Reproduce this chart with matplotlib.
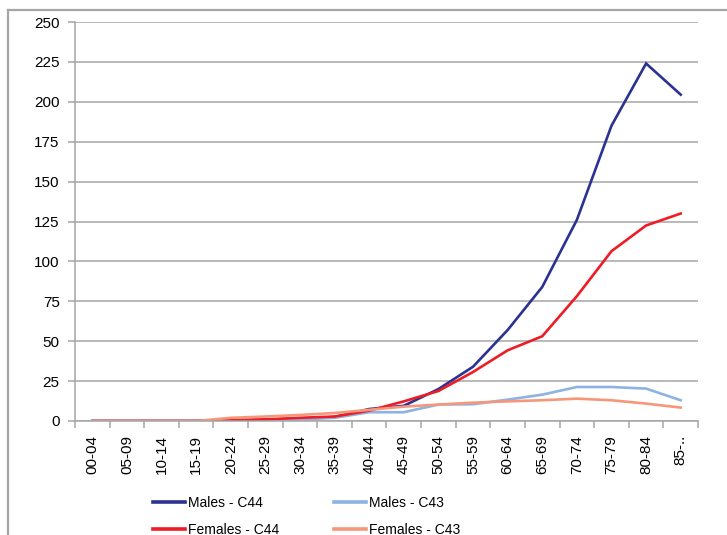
import matplotlib
matplotlib.use("Agg")
import matplotlib.pyplot as plt
from matplotlib.lines import Line2D
import numpy as np

plt.rcParams['font.family'] = ['Liberation Sans', 'DejaVu Sans']

# age groups
age_groups = ["00-04", "05-09", "10-14", "15-19", "20-24", "25-29", "30-34", "35-39",
              "40-44", "45-49", "50-54", "55-59", "60-64", "65-69", "70-74", "75-79",
              "80-84", "85-.."]

# rates
males_c44 = [0, 0, 0, 0, 0.3, 0.8, 1.5, 2.5, 7.5, 9.5, 20, 34, 57, 84, 126, 185, 224, 204.5]
males_c43 = [0, 0, 0, 0, 0.2, 0.4, 1, 2, 5.5, 5.5, 10.3, 10.5, 13.4, 16.5, 21.3, 21.3, 20.3, 13]
females_c44 = [0, 0, 0, 0, 0.5, 1, 2, 2.8, 6.5, 12.3, 18.8, 30.7, 44.3, 53.1, 78.2, 106.4, 122.5, 130]
females_c43 = [0, 0, 0, 0, 2, 2.8, 3.8, 5, 7, 9, 10.3, 11.5, 12.3, 13, 14, 13, 10.9, 8.4]

series = [
    ("Males - C44", males_c44, "#2B3290"),
    ("Males - C43", males_c43, "#8DB3E2"),
    ("Females - C44", females_c44, "#EE1C25"),
    ("Females - C43", females_c43, "#F7977A"),
]

fig = plt.figure(figsize=(7.27, 5.35), dpi=100)
ax = fig.add_axes([75 / 727, 1 - 421 / 535, (698 - 75) / 727, (421 - 22) / 535])

x = np.arange(len(age_groups))
for name, vals, col in series:
    ax.plot(x, vals, color=col, lw=1.9, label=name, solid_joinstyle='miter')

ax.set_xlim(-0.5, len(age_groups) - 0.5)
ax.set_ylim(0, 250)
ax.set_yticks(np.arange(0, 251, 25))
ax.yaxis.grid(True, color="#A6A6A6", lw=1.1)
ax.set_axisbelow(True)

ax.set_xticks(x)
ax.set_xticklabels(age_groups, rotation=90, fontsize=11)
ax.tick_params(axis='x', length=0, pad=10)
ax.set_xticks(np.arange(-0.5, len(age_groups), 1), minor=True)
ax.tick_params(axis='x', which='minor', length=5, direction='out', color="#A6A6A6", width=1.1)
ax.tick_params(axis='y', length=5, direction='out', color="#A6A6A6", width=1.1, labelsize=11, pad=6)

for s in ['top', 'right']:
    ax.spines[s].set_visible(False)
for s in ['left', 'bottom']:
    ax.spines[s].set_color("#A6A6A6")
    ax.spines[s].set_linewidth(1.1)

# legend columns: C44 on the left, C43 on the right
order = [0, 2, 1, 3]
handles = [Line2D([], [], color=series[i][2], lw=2.6) for i in order]
labels = [series[i][0] for i in order]
fig.legend(handles, labels, ncol=2, frameon=False, fontsize=10,
           loc='upper left', bbox_to_anchor=(146 / 727, 1 - 489 / 535), borderpad=0,
           handlelength=2.3, handletextpad=0.2, columnspacing=4.0, labelspacing=0.95)

# outer chart border (top and left visible)
fig.add_artist(Line2D([8 / 727, 1], [1 - 10 / 535, 1 - 10 / 535], transform=fig.transFigure,
                      color="#A6A6A6", lw=1.6))
fig.add_artist(Line2D([8 / 727, 8 / 727], [0, 1 - 10 / 535], transform=fig.transFigure,
                      color="#A6A6A6", lw=1.6))

fig.savefig("out.png", dpi=100)
